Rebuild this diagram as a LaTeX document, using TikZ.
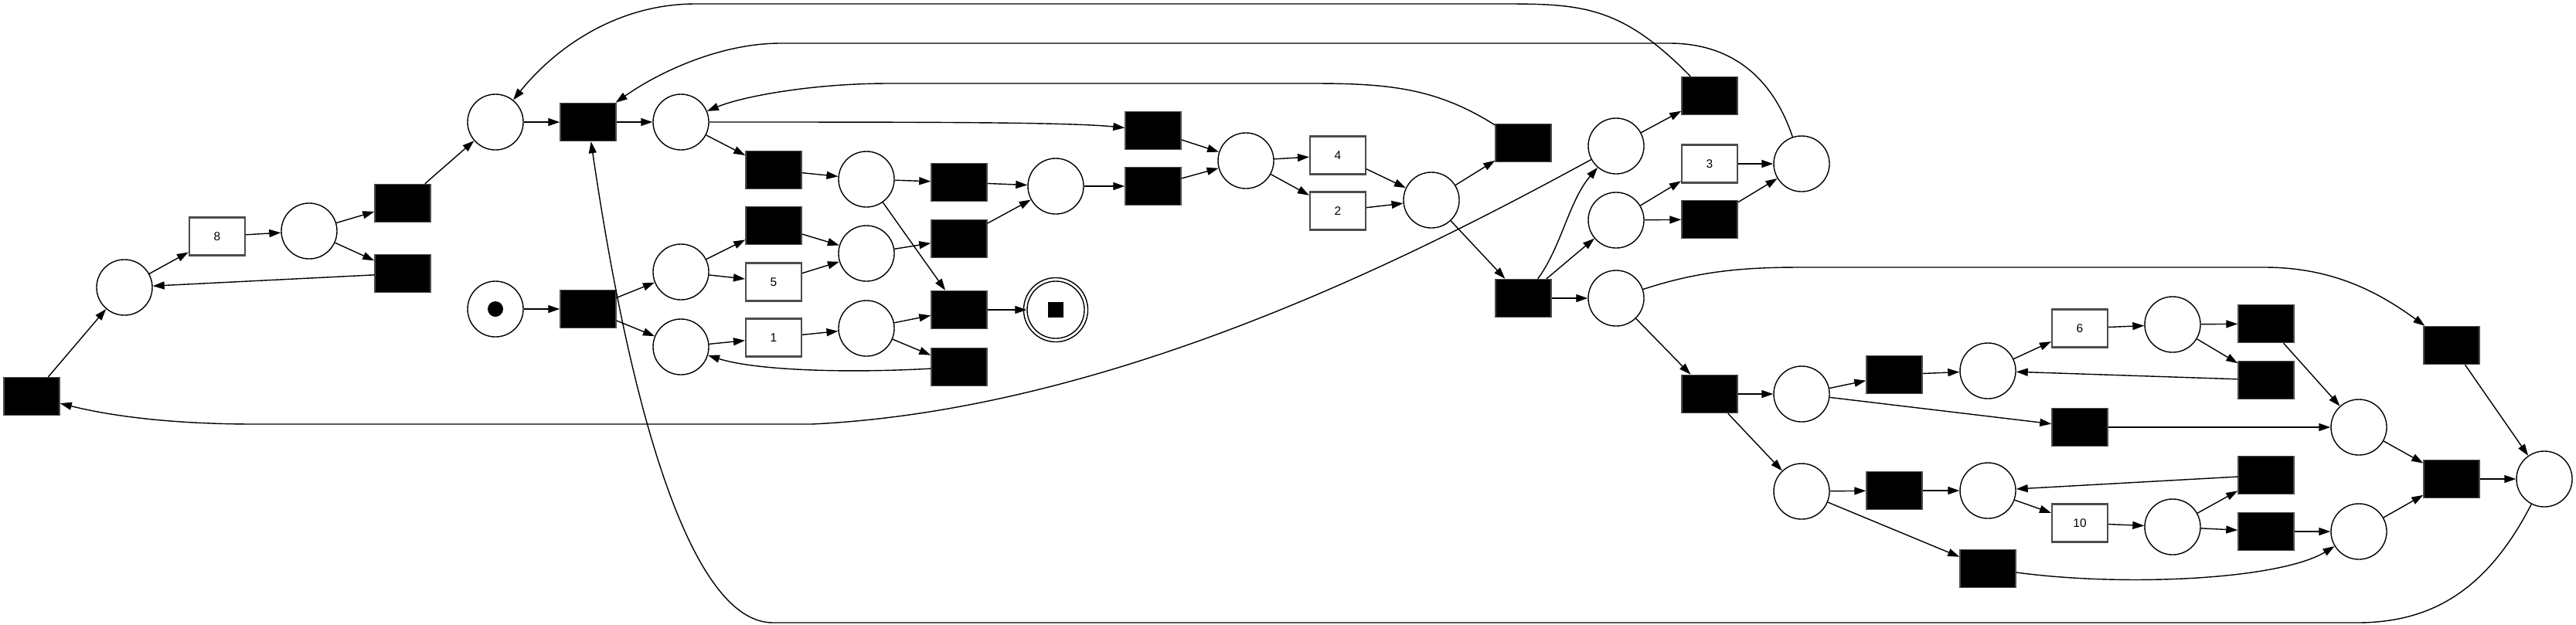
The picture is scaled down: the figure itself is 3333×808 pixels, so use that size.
\documentclass[tikz,border=0pt]{standalone}
\usepackage{fontspec}
\setmainfont{Liberation Sans}
\usetikzlibrary{arrows.meta}

\begin{document}
\begin{tikzpicture}[x=0.01cm,y=-0.01cm,>={Triangle[length=0.15cm,width=0.1cm]}]
	\tikzstyle{every node}=[font=\fontsize{4.4}{5}\selectfont]
	\tikzstyle{place}=[circle,draw,line width=0.4pt,minimum size=0.72cm,inner sep=0pt]
	\tikzstyle{silent}=[rectangle,fill=black,draw=black!70,line width=0.4pt,minimum width=0.72cm,minimum height=0.49cm,inner sep=0pt]
	\tikzstyle{task}=[rectangle,draw=black!70,line width=0.6pt,minimum width=0.72cm,minimum height=0.49cm,inner sep=0pt]
	\tikzstyle{arc}=[->,line width=0.4pt]
	
	\useasboundingbox (0,0) rectangle (3333,808);
	
	% left loop
	\node[silent] (tl) at (41,513) {};
	\node[place] (pa) at (161,372) {};
	\node[task] (b8) at (281,306) {8};
	\node[place] (pb) at (400,299) {};
	\node[silent] (tb1) at (521,263) {};
	\node[silent] (tb2) at (521,354) {};
	\node[place] (pc) at (641,158) {};
	\node[silent] (tm) at (761,158) {};
	\node[place] (pd) at (881,158) {};
	
	% start
	\node[place] (pi) at (641,400) {};
	\node[circle,fill,minimum size=0.2cm,inner sep=0pt] (tok) at (pi) {};
	\node[silent] (ts) at (761,400) {};
	\node[place] (pe) at (881,352) {};
	\node[place] (pf) at (881,449) {};
	
	\node[silent] (t1) at (1001,220) {};
	\node[silent] (t2) at (1001,292) {};
	\node[task] (b5) at (1001,365) {5};
	\node[task] (b1) at (1001,437) {1};
	\node[place] (pg) at (1121,232) {};
	\node[place] (ph) at (1121,328) {};
	\node[place] (pii) at (1121,425) {};
	\node[silent] (tg) at (1241,236) {};
	\node[silent] (th) at (1241,309) {};
	\node[silent] (tf) at (1241,401) {};
	\node[silent] (tbk) at (1241,475) {};
	\node[place] (pj) at (1366,241) {};
	
	% end
	\node[place,minimum size=0.74cm] (pend) at (1366,401) {};
	\node[circle,draw,minimum size=0.83cm,inner sep=0pt] (pendo) at (pend) {};
	\node[fill,minimum size=0.2cm,inner sep=0pt] (endtok) at (pend) {};
	
	\node[silent] (tk1) at (1492,169) {};
	\node[silent] (tk2) at (1492,241) {};
	\node[place] (pk) at (1612,208) {};
	\node[task] (b4) at (1731,201) {4};
	\node[task] (b2) at (1731,273) {2};
	\node[place] (pl) at (1852,259) {};
	\node[silent] (tmm) at (1971,185) {};
	\node[silent] (tn) at (1971,386) {};
	
	\node[place] (po) at (2091,189) {};
	\node[place] (pp) at (2091,285) {};
	\node[place] (pq) at (2091,386) {};
	\node[silent] (tr) at (2212,124) {};
	\node[task] (b3) at (2212,212) {3};
	\node[silent] (tss) at (2212,284) {};
	\node[place] (pt) at (2331,212) {};
	
	% right part
	\node[silent] (tu) at (2212,510) {};
	\node[place] (pv) at (2331,510) {};
	\node[place] (pw) at (2331,636) {};
	\node[silent] (tx1) at (2451,485) {};
	\node[silent] (tx2) at (2451,635) {};
	\node[place] (pA) at (2572,480) {};
	\node[place] (pB) at (2572,635) {};
	\node[silent] (ty) at (2572,736) {};
	\node[task] (b6) at (2691,425) {6};
	\node[silent] (tz) at (2691,553) {};
	\node[task] (b10) at (2691,677) {10};
	\node[place] (pC) at (2811,420) {};
	\node[place] (pD) at (2811,682) {};
	\node[silent] (tE1) at (2932,419) {};
	\node[silent] (tE2) at (2932,492) {};
	\node[silent] (tF1) at (2932,615) {};
	\node[silent] (tF2) at (2932,688) {};
	\node[place] (pG) at (3052,553) {};
	\node[place] (pH) at (3052,688) {};
	\node[silent] (tI) at (3172,447) {};
	\node[silent] (tJ) at (3172,620) {};
	\node[place] (pK) at (3292,620) {};
	
	% arcs
	\draw[arc] (tl) -- (pa);
	\draw[arc] (pa) -- (b8);
	\draw[arc] (b8) -- (pb);
	\draw[arc] (pb) -- (tb1);
	\draw[arc] (pb) -- (tb2);
	\draw[arc] (tb2) -- (pa);
	\draw[arc] (tb1) -- (pc);
	\draw[arc] (pc) -- (tm);
	\draw[arc] (tm) -- (pd);
	\draw[arc] (pd) -- (t1);
	\draw[arc] (t1) -- (pg);
	\draw[arc] (pg) -- (tg);
	\draw[arc] (pg) -- (tf);
	\draw[arc] (tg) -- (pj);
	\draw[arc] (pi) -- (ts);
	\draw[arc] (ts) -- (pe);
	\draw[arc] (ts) -- (pf);
	\draw[arc] (pe) -- (t2);
	\draw[arc] (pe) -- (b5);
	\draw[arc] (t2) -- (ph);
	\draw[arc] (b5) -- (ph);
	\draw[arc] (ph) -- (th);
	\draw[arc] (th) -- (pj);
	\draw[arc] (pf) -- (b1);
	\draw[arc] (b1) -- (pii);
	\draw[arc] (pii) -- (tf);
	\draw[arc] (pii) -- (tbk);
	\draw[arc] (tbk) .. controls (1100,483) and (980,480) .. (pf);
	\draw[arc] (tf) -- (pend);
	\draw[arc] (pj) -- (tk2);
	\draw[arc] (pd) .. controls (1200,158) and (1380,158) .. (tk1);
	\draw[arc] (tk1) -- (pk);
	\draw[arc] (tk2) -- (pk);
	\draw[arc] (pk) -- (b4);
	\draw[arc] (pk) -- (b2);
	\draw[arc] (b4) -- (pl);
	\draw[arc] (b2) -- (pl);
	\draw[arc] (pl) -- (tmm);
	\draw[arc] (pl) -- (tn);
	\draw[arc] (tmm) .. controls (1860,115) and (1800,108) .. (1700,108) -- (1150,108) .. controls (1050,108) and (960,125) .. (pd);
	\draw[arc] (tn) .. controls (2020,320) and (2030,260) .. (po);
	\draw[arc] (tn) -- (pp);
	\draw[arc] (tn) -- (pq);
	\draw[arc] (po) -- (tr);
	\draw[arc] (tr) .. controls (2100,10) and (2050,5) .. (1950,5) -- (900,5) .. controls (800,5) and (720,60) .. (pc);
	\draw[arc] (pp) -- (b3);
	\draw[arc] (pp) -- (tss);
	\draw[arc] (b3) -- (pt);
	\draw[arc] (tss) -- (pt);
	\draw[arc] (pt) .. controls (2290,90) and (2230,56) .. (2160,56) -- (1010,56) .. controls (930,56) and (850,95) .. (tm);
	\draw[arc] (po) .. controls (1850,320) and (1450,530) .. (1050,549) -- (330,549) .. controls (230,549) and (150,540) .. (tl);
	
	\draw[arc] (pq) .. controls (2200,350) and (2260,346) .. (2330,346) -- (2930,346) .. controls (3020,346) and (3080,380) .. (tI);
	\draw[arc] (pq) -- (tu);
	\draw[arc] (tu) -- (pv);
	\draw[arc] (tu) -- (pw);
	\draw[arc] (pv) -- (tx1);
	\draw[arc] (pv) -- (tz);
	\draw[arc] (tx1) -- (pA);
	\draw[arc] (pA) -- (b6);
	\draw[arc] (b6) -- (pC);
	\draw[arc] (pC) -- (tE1);
	\draw[arc] (pC) -- (tE2);
	\draw[arc] (tE2) -- (pA);
	\draw[arc] (tE1) -- (pG);
	\draw[arc] (tz) -- (pG);
	\draw[arc] (pG) -- (tJ);
	\draw[arc] (pw) -- (tx2);
	\draw[arc] (pw) -- (ty);
	\draw[arc] (tx2) -- (pB);
	\draw[arc] (pB) -- (b10);
	\draw[arc] (b10) -- (pD);
	\draw[arc] (pD) -- (tF1);
	\draw[arc] (pD) -- (tF2);
	\draw[arc] (tF1) -- (pB);
	\draw[arc] (tF2) -- (pH);
	\draw[arc] (ty) .. controls (2750,760) and (2950,750) .. (pH);
	\draw[arc] (pH) -- (tJ);
	\draw[arc] (tI) -- (pK);
	\draw[arc] (tJ) -- (pK);
	\draw[arc] (pK) .. controls (3220,760) and (3150,806) .. (3050,806) -- (1000,806) .. controls (900,806) and (820,560) .. (tm);
	
\end{tikzpicture}
\end{document}
